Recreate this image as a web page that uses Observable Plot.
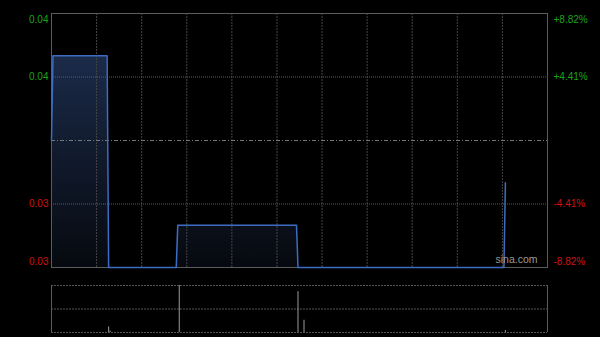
<!DOCTYPE html>
<html>
<head>
<meta charset="utf-8">
<script src="https://cdn.jsdelivr.net/npm/d3@7"></script>
<script src="https://cdn.jsdelivr.net/npm/@observablehq/plot@0.6"></script>
<style>
  html, body { margin: 0; padding: 0; background: #000; }
  #chart { width: 600px; height: 337px; background: #000; overflow: hidden; }
  #chart svg { display: block; }
</style>
</head>
<body>
<div id="chart"></div>
<script>
// ---- data ----
const prevClose = 0.034;
const priceTicks = [0.037, 0.0355, 0.0325, 0.031];
const priceLabels = ["0.04", "0.04", "0.03", "0.03"];
const pctLabels = ["+8.82%", "+4.41%", "-4.41%", "-8.82%"];
const sessionMinutes = 330;
const timeGridMinutes = [30, 60, 90, 120, 150, 180, 210, 240, 270, 300];
const priceMinutes = [0, 1, 37, 38, 83, 84, 163, 164, 301, 302];
const prices = [0.034, 0.036, 0.036, 0.031, 0.031, 0.032, 0.032, 0.031, 0.031, 0.033];
const volMinutes = [38, 39, 85, 164, 168, 302];
const volumes = [12000, 3000, 100000, 87000, 26000, 4000];

// ---- tables ----
const priceRows = priceMinutes.map((m, i) => ({m, p: prices[i]}));
const volRows = volMinutes.map((m, i) => ({m, v: volumes[i]}));
const tickRows = priceTicks.map((t, i) => ({t, label: priceLabels[i], pct: pctLabels[i], up: t > prevClose, i}));
const yMin = d3.min(priceTicks), yMax = d3.max(priceTicks);
const green = "#1aa31a", red = "#d01010";
const col = d => d.up ? green : red;

const font = {fontFamily: "'Liberation Sans', Arial, sans-serif", fontSize: "10px", background: "#000", color: "#ccc"};

function labelMarks(rows, dy) {
  return [
    Plot.text(rows, {y: "t", text: "label", frameAnchor: "left", textAnchor: "end", dx: -3, dy, fill: col}),
    Plot.text(rows, {y: "t", text: "pct", frameAnchor: "right", textAnchor: "start", dx: 6, dy, fill: col})
  ];
}

const main = Plot.plot({
  width: 600, height: 275,
  marginTop: 13, marginBottom: 8, marginLeft: 51, marginRight: 53,
  style: font,
  x: {domain: [0, sessionMinutes], axis: null},
  y: {domain: [yMin, yMax], axis: null},
  marks: [
    Plot.areaY(priceRows, {x: "m", y1: yMin, y2: "p", fill: "url(#priceGrad)"}),
    Plot.ruleX(timeGridMinutes, {stroke: "#444", strokeDasharray: "2,1"}),
    Plot.ruleY(priceTicks.filter(t => t !== yMin && t !== yMax), {stroke: "#5a5a5a", strokeDasharray: "1,1"}),
    Plot.ruleY([prevClose], {stroke: "#777", strokeDasharray: "4,2,1,2"}),
    Plot.frame({stroke: "#5c5c5c"}),
    Plot.lineY(priceRows, {x: "m", y: "p", stroke: "#3d6dc2", strokeWidth: 1.5}),
    ...labelMarks(tickRows.filter(d => d.i === 0), 6),
    ...labelMarks(tickRows.filter(d => d.i === 1 || d.i === 2), 0),
    ...labelMarks(tickRows.filter(d => d.i === 3), -6),
    Plot.text(["sina.com"], {frameAnchor: "bottom-right", textAnchor: "end", dx: -10, dy: -5, fill: "#9a9a9a", fontSize: 10.5})
  ]
});

const g = d3.select(main).insert("defs", ":first-child")
  .append("linearGradient")
  .attr("id", "priceGrad")
  .attr("gradientUnits", "userSpaceOnUse")
  .attr("x1", 0).attr("x2", 0).attr("y1", 13).attr("y2", 267);
g.append("stop").attr("offset", "0%").attr("stop-color", "#1f3154");
g.append("stop").attr("offset", "100%").attr("stop-color", "#06090f");

const vmax = d3.max(volumes);
const vol = Plot.plot({
  width: 600, height: 62,
  marginTop: 10, marginBottom: 5, marginLeft: 51, marginRight: 53,
  style: font,
  x: {domain: [0, sessionMinutes], axis: null},
  y: {domain: [0, vmax], axis: null},
  marks: [
    Plot.ruleY([0, vmax / 2, vmax], {stroke: "#555", strokeDasharray: "2,1"}),
    Plot.ruleX([0, sessionMinutes], {stroke: "#5c5c5c"}),
    Plot.ruleX(volRows, {x: "m", y1: 0, y2: "v", stroke: "#9a9a9a"})
  ]
});

const root = document.getElementById("chart");
root.appendChild(main);
root.appendChild(vol);
</script>
</body>
</html>
